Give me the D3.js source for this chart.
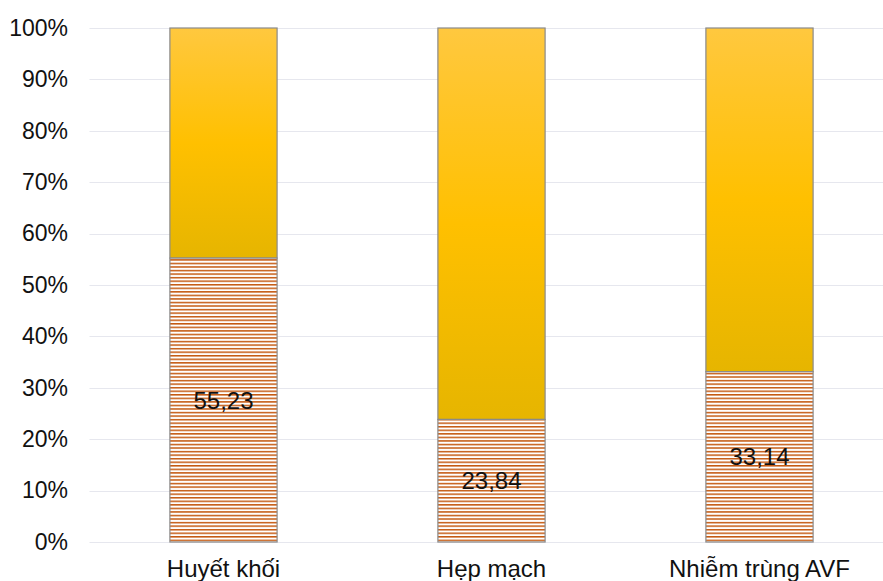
<!DOCTYPE html>
<html>
<head>
<meta charset="utf-8">
<script src="https://cdn.jsdelivr.net/npm/d3@7"></script>
<style>
  html, body { margin: 0; padding: 0; background: #fff; }
  svg { display: block; font-family: "Liberation Sans", Arial, sans-serif; }
</style>
</head>
<body>
<svg id="chart" width="883" height="581"></svg>
<script>
// Complication shares (%) per category; the remainder fills the bar to 100%.
const categories = ["Huyết khối", "Hẹp mạch", "Nhiễm trùng AVF"];
const shareValues = [55.23, 23.84, 33.14];
const shareLabels = ["55,23", "23,84", "33,14"];
const yTicks = [0, 10, 20, 30, 40, 50, 60, 70, 80, 90, 100];

const svg = d3.select("#chart");
const margin = { left: 89.5, right: -10.5, top: 28, bottom: 39 };
const W = 883, H = 581;

const x = d3.scaleBand()
  .domain(categories)
  .range([margin.left, W - margin.right])
  .paddingInner(0.6)
  .paddingOuter(0.3);

const y = d3.scaleLinear()
  .domain([0, 100])
  .range([H - margin.bottom, margin.top]);

const defs = svg.append("defs");

// Horizontal orange hatch for the share segment
const pat = defs.append("pattern")
  .attr("id", "hatch")
  .attr("patternUnits", "userSpaceOnUse")
  .attr("width", 8)
  .attr("height", 3.55);
pat.append("rect").attr("width", 8).attr("height", 3.55).attr("fill", "#fff");
pat.append("rect").attr("y", 0).attr("width", 8).attr("height", 1.5).attr("fill", "#C55A11");

// Gold gradient for the remainder segment
const grad = defs.append("linearGradient")
  .attr("id", "gold")
  .attr("x1", 0).attr("y1", 0).attr("x2", 0).attr("y2", 1);
grad.append("stop").attr("offset", "0%").attr("stop-color", "#FFC83F");
grad.append("stop").attr("offset", "50%").attr("stop-color", "#FFC000");
grad.append("stop").attr("offset", "100%").attr("stop-color", "#E6B500");

// Gridlines
svg.append("g")
  .selectAll("line")
  .data(yTicks)
  .join("line")
  .attr("x1", margin.left)
  .attr("x2", W)
  .attr("y1", d => Math.round(y(d)) + 0.5)
  .attr("y2", d => Math.round(y(d)) + 0.5)
  .attr("stroke", "#E6E7EE")
  .attr("stroke-width", 1.2);

// Y axis labels
const yAxis = d3.axisLeft(y)
  .tickValues(yTicks)
  .tickFormat(d => d + "%")
  .tickSize(0)
  .tickPadding(0);
const yg = svg.append("g")
  .attr("transform", `translate(68,0)`)
  .call(yAxis);
yg.select(".domain").remove();
yg.selectAll("text")
  .attr("font-size", 23)
  .attr("fill", "#111")
  .attr("font-family", "Liberation Sans, Arial, sans-serif");

const bars = svg.append("g");
const idx = d3.range(categories.length);

// Remainder (upper) segments
bars.selectAll("rect.top")
  .data(idx)
  .join("rect")
  .attr("class", "top")
  .attr("x", i => x(categories[i]))
  .attr("width", x.bandwidth())
  .attr("y", y(100))
  .attr("height", i => y(shareValues[i]) - y(100))
  .attr("fill", "url(#gold)")
  .attr("stroke", "#8A8A8A")
  .attr("stroke-width", 1.2);

// Share (lower) segments
bars.selectAll("rect.bottom")
  .data(idx)
  .join("rect")
  .attr("class", "bottom")
  .attr("x", i => x(categories[i]))
  .attr("width", x.bandwidth())
  .attr("y", i => y(shareValues[i]))
  .attr("height", i => y(0) - y(shareValues[i]))
  .attr("fill", "url(#hatch)")
  .attr("stroke", "#8A8A8A")
  .attr("stroke-width", 1.2);

// Value labels centred in share segments
bars.selectAll("text.val")
  .data(idx)
  .join("text")
  .attr("class", "val")
  .attr("x", i => x(categories[i]) + x.bandwidth() / 2)
  .attr("y", i => (y(0) + y(shareValues[i])) / 2)
  .attr("dy", "0.36em")
  .attr("text-anchor", "middle")
  .attr("font-size", 24)
  .attr("fill", "#111")
  .text(i => shareLabels[i]);

// Category labels
svg.append("g")
  .selectAll("text")
  .data(categories)
  .join("text")
  .attr("x", d => x(d) + x.bandwidth() / 2)
  .attr("y", 577)
  .attr("text-anchor", "middle")
  .attr("font-size", 24)
  .attr("fill", "#111")
  .text(d => d);
</script>
</body>
</html>
